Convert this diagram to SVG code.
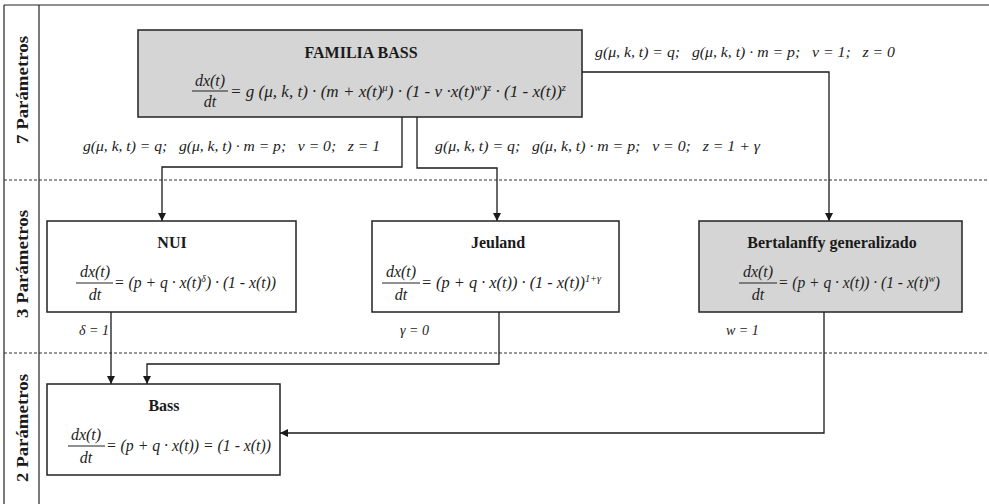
<svg xmlns="http://www.w3.org/2000/svg" width="989" height="504" viewBox="0 0 989 504">
<defs>
<marker id="ah" viewBox="0 0 10 10" refX="10" refY="5" markerWidth="8" markerHeight="8" markerUnits="userSpaceOnUse" orient="auto"><path d="M0,0 L10,5 L0,10 z" fill="#1a1a1a"/></marker>
</defs>
<style>
.frame{stroke:#222;stroke-width:1.2;fill:none}
.dash{stroke:#333;stroke-width:1;stroke-dasharray:3,2;fill:none}
.box{fill:#fff;stroke:#222;stroke-width:1.5}
.grey{fill:#d5d5d5}
.conn{fill:none;stroke:#1a1a1a;stroke-width:1.3;marker-end:url(#ah)}
.fr{stroke:#222;stroke-width:1}
text{font-family:'Liberation Serif','Times New Roman','DejaVu Serif',serif}
.title{font-weight:bold;font-size:16px;fill:#1a1a1a;text-anchor:middle}
.side{font-weight:bold;font-size:17px;fill:#1a1a1a;text-anchor:middle}
.m{font-style:italic;font-size:16px;fill:#222}
.mc{font-style:italic;font-size:16px;fill:#222;text-anchor:middle}
.lbl{font-style:italic;font-size:15px;fill:#222;white-space:pre}
.sm{font-style:italic;font-size:14px;fill:#222}
.sup{font-size:10px}
</style>
<g id="frame">
<line class="frame" x1="4" y1="5" x2="989" y2="5"/>
<line class="frame" x1="4" y1="5" x2="4" y2="504"/>
<line class="frame" x1="39" y1="5" x2="39" y2="504"/>
<line class="dash" x1="4" y1="180" x2="989" y2="180"/>
<line class="dash" x1="4" y1="353" x2="989" y2="353"/>
<text class="side" transform="translate(28,90) rotate(-90)" textLength="108" lengthAdjust="spacingAndGlyphs">7 Parámetros</text>
<text class="side" transform="translate(28,264) rotate(-90)" textLength="108" lengthAdjust="spacingAndGlyphs">3 Parámetros</text>
<text class="side" transform="translate(28,428) rotate(-90)" textLength="108" lengthAdjust="spacingAndGlyphs">2 Parámetros</text>
</g>
<g id="connectors">
<polyline class="conn" points="402,117 402,167 162,167 162,221"/>
<polyline class="conn" points="417,117 417,168 497,168 497,221"/>
<polyline class="conn" points="582,72 829,72 829,221"/>
<polyline class="conn" points="111,312 111,384"/>
<polyline class="conn" points="499,312 499,364 147,364 147,384"/>
<polyline class="conn" points="824,312 824,433 280,433"/>
<text class="lbl" x="595" y="57" textLength="300" lengthAdjust="spacingAndGlyphs">g(μ, k, t) = q;   g(μ, k, t) · m = p;   v = 1;   z = 0</text>
<text class="lbl" x="83" y="151" textLength="297" lengthAdjust="spacingAndGlyphs">g(μ, k, t) = q;   g(μ, k, t) · m = p;   v = 0;   z = 1</text>
<text class="lbl" x="435" y="151" textLength="325" lengthAdjust="spacingAndGlyphs">g(μ, k, t) = q;   g(μ, k, t) · m = p;   v = 0;   z = 1 + γ</text>
<text class="sm" x="79" y="335">δ = 1</text>
<text class="sm" x="400" y="335">γ = 0</text>
<text class="sm" x="726" y="335">w = 1</text>
</g>
<g id="familia">
<rect class="box grey" x="138" y="30" width="444" height="87"/>
<text class="title" x="361" y="58">FAMILIA BASS</text>
<text class="mc" x="210" y="86">dx(t)</text>
<line class="fr" x1="192" y1="91" x2="228" y2="91"/>
<text class="mc" x="210" y="107">dt</text>
<text class="m" x="230" y="97" textLength="336" lengthAdjust="spacingAndGlyphs">= g (μ, k, t) · (m + x(t)<tspan class="sup" dy="-6">μ</tspan><tspan dy="6">) · (1 - v ·x(t)</tspan><tspan class="sup" dy="-6">w</tspan><tspan dy="6">)</tspan><tspan class="sup" dy="-6">z</tspan><tspan dy="6"> · (1 - x(t))</tspan><tspan class="sup" dy="-6">z</tspan></text>
</g>
<g id="nui">
<rect class="box" x="47" y="221" width="249" height="91"/>
<text class="title" x="172" y="248">NUI</text>
<text class="mc" x="95" y="277">dx(t)</text>
<line class="fr" x1="76" y1="283" x2="113" y2="283"/>
<text class="mc" x="95" y="300">dt</text>
<text class="m" x="114" y="288" textLength="162" lengthAdjust="spacingAndGlyphs">= (p + q · x(t)<tspan class="sup" dy="-6">δ</tspan><tspan dy="6">) · (1 - x(t))</tspan></text>
</g>
<g id="jeuland">
<rect class="box" x="372" y="221" width="247" height="91"/>
<text class="title" x="498" y="248">Jeuland</text>
<text class="mc" x="401" y="277">dx(t)</text>
<line class="fr" x1="382" y1="283" x2="420" y2="283"/>
<text class="mc" x="401" y="300">dt</text>
<text class="m" x="421" y="288" textLength="180" lengthAdjust="spacingAndGlyphs">= (p + q · x(t)) · (1 - x(t))<tspan class="sup" dy="-6">1+γ</tspan></text>
</g>
<g id="bertalanffy">
<rect class="box grey" x="699" y="221" width="263" height="91"/>
<text class="title" x="832" y="248">Bertalanffy generalizado</text>
<text class="mc" x="758" y="277">dx(t)</text>
<line class="fr" x1="739" y1="283" x2="777" y2="283"/>
<text class="mc" x="758" y="300">dt</text>
<text class="m" x="778" y="288" textLength="162" lengthAdjust="spacingAndGlyphs">= (p + q · x(t)) · (1 - x(t)<tspan class="sup" dy="-6">w</tspan><tspan dy="6">)</tspan></text>
</g>
<g id="bass">
<rect class="box" x="47" y="384" width="233" height="91"/>
<text class="title" x="164" y="411">Bass</text>
<text class="mc" x="86" y="440">dx(t)</text>
<line class="fr" x1="68" y1="446" x2="105" y2="446"/>
<text class="mc" x="86" y="463">dt</text>
<text class="m" x="106" y="451" textLength="165" lengthAdjust="spacingAndGlyphs">= (p + q · x(t)) = (1 - x(t))</text>
</g>
</svg>
